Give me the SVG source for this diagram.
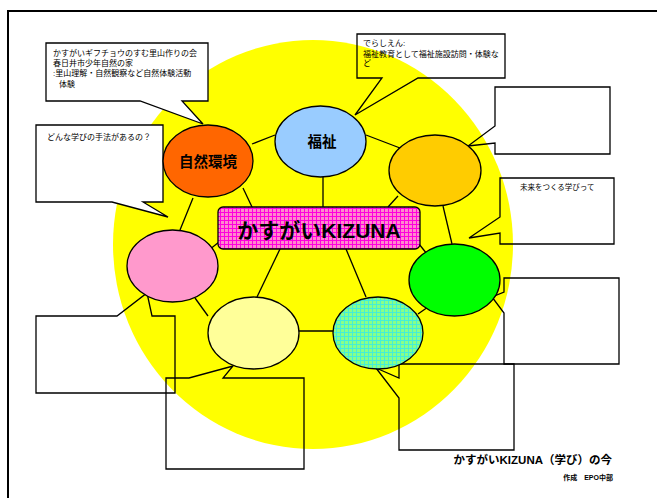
<svg xmlns="http://www.w3.org/2000/svg" width="657" height="498" viewBox="0 0 657 498">
<style>
text{font-family:"Liberation Sans","Noto Sans CJK JP",sans-serif;fill:#000}
.ln{stroke:#000;stroke-width:1.3;fill:none}
.nd{stroke:#000;stroke-width:1.3}
.co{stroke:#000;stroke-width:1.3;stroke-linejoin:miter}
.sm{font-size:8px}
.lb{font-size:14.5px;font-weight:bold}
</style>
<defs>
<pattern id="pk" width="4" height="4" patternUnits="userSpaceOnUse">
<rect width="4" height="4" fill="#FF88CC"/>
<path d="M0 0.5H4M0.5 0V4" stroke="#FF00DD" stroke-width="1"/>
</pattern>
<pattern id="gc" width="4" height="4" patternUnits="userSpaceOnUse">
<rect width="4" height="4" fill="#88FF88"/>
<path d="M0 0.5H4M0.5 0V4" stroke="#44EED8" stroke-width="1"/>
</pattern>
</defs>
<rect width="657" height="498" fill="#fff"/>
<rect x="8" y="11" width="670" height="510" fill="none" stroke="#000" stroke-width="2"/>
<ellipse id="bg-circle" cx="313" cy="244.5" rx="200" ry="204.5" fill="#FFFF00"/>

<g id="callouts">
<g id="callout-satoyama">
<polygon class="co" fill="#fff" points="46,43 208,43 208,101 182,101 203,124 140,101 46,101"/>
<text class="sm" x="53" y="56">かすがいギフチョウのすむ里山作りの会</text>
<text class="sm" x="53" y="66">春日井市少年自然の家</text>
<text class="sm" x="53" y="76">:里山理解・自然観察など自然体験活動</text>
<text class="sm" x="59" y="87">体験</text>
</g>
<g id="callout-method">
<polygon class="co" fill="#fff" points="36,125 163,125 163,202 143,202 168,217 112,202 36,202"/>
<text class="sm" x="47" y="140">どんな学びの手法があるの？</text>
</g>
<g id="callout-welfare">
<polygon class="co" fill="none" points="357,34 505,34 505,78 418,78 355,115 382,78 357,78"/>
<text class="sm" x="363" y="46">でらしえん:</text>
<text class="sm" x="363" y="56.5">福祉教育として福祉施設訪問・体験な</text>
<text class="sm" x="363" y="66">ど</text>
</g>
<g id="callout-r1">
<polygon class="co" fill="none" points="495,87 610,87 610,154 495,154 495,143 468,146 495,126"/>
</g>
<g id="callout-future">
<polygon class="co" fill="none" points="500,178 614,178 614,244 500,244 500,233 469,238 500,217"/>
<text x="520" y="190" style="font-size:7.5px">未来をつくる学びって</text>
</g>
<g id="callout-r3">
<polygon class="co" fill="none" points="504,278 619,278 619,364 504,364 504,313 492,297 504,292"/>
</g>
<g id="callout-b1">
<polygon class="co" fill="none" points="399,364 514,364 514,450 399,450 399,398 376,368 399,378"/>
</g>
<g id="callout-l1">
<polygon class="co" fill="none" points="36,316 117,316 147,293 152,316 175,316 175,393 36,393"/>
</g>
<g id="callout-l2">
<polygon class="co" fill="none" points="166,378 189,378 233,366 223,378 304,378 304,469 166,469"/>
</g>
</g>

<g id="connectors">
<line class="ln" x1="252" y1="144" x2="275" y2="135"/>
<line class="ln" x1="366" y1="135" x2="400" y2="148"/>
<line class="ln" x1="323" y1="177" x2="323" y2="207"/>
<line class="ln" x1="243" y1="188" x2="252" y2="207"/>
<line class="ln" x1="193" y1="198" x2="180" y2="230"/>
<line class="ln" x1="398" y1="196" x2="388" y2="207"/>
<line class="ln" x1="443" y1="206" x2="452" y2="244"/>
<line class="ln" x1="346" y1="249" x2="366" y2="297"/>
<line class="ln" x1="280" y1="249" x2="257" y2="297"/>
<line class="ln" x1="209" y1="250" x2="219" y2="242"/>
<line class="ln" x1="419" y1="244" x2="427" y2="254"/>
<line class="ln" x1="195" y1="298" x2="208" y2="316"/>
<line class="ln" x1="299" y1="331" x2="333" y2="331"/>
<line class="ln" x1="418" y1="314" x2="428" y2="307"/>
</g>

<g id="node-shizen">
<ellipse class="nd" cx="208" cy="161" rx="45" ry="36" fill="#FF6600"/>
<text class="lb" x="208" y="166.5" text-anchor="middle">自然環境</text>
</g>
<g id="node-fukushi">
<ellipse class="nd" cx="320.5" cy="141.5" rx="45.5" ry="35.5" fill="#99CCFF"/>
<text class="lb" x="322" y="147" text-anchor="middle">福祉</text>
</g>
<g id="node-gold">
<ellipse class="nd" cx="435" cy="170.5" rx="46" ry="35.5" fill="#FFCC00"/>
</g>
<g id="node-pink">
<ellipse class="nd" cx="172.5" cy="266" rx="45.5" ry="36" fill="#FF99CC"/>
</g>
<g id="node-lightyellow">
<ellipse class="nd" cx="253.5" cy="333" rx="45.5" ry="36" fill="#FFFF99"/>
</g>
<g id="node-green">
<ellipse class="nd" cx="454.5" cy="280" rx="45.5" ry="36" fill="#00FF00"/>
</g>
<g id="node-check">
<ellipse class="nd" cx="378" cy="333" rx="45" ry="36" fill="url(#gc)"/>
</g>
<g id="node-center">
<rect class="nd" x="218" y="207" width="202" height="42" rx="5" fill="url(#pk)"/>
<text x="319" y="237.5" text-anchor="middle" style="font-size:21px;font-weight:bold">かすがいKIZUNA</text>
</g>

<text x="612" y="464" text-anchor="end" style="font-size:11.5px;font-weight:bold">かすがいKIZUNA（学び）の今</text>
<text x="613" y="480" text-anchor="end" style="font-size:7px;font-weight:bold">作成　EPO中部</text>
</svg>
